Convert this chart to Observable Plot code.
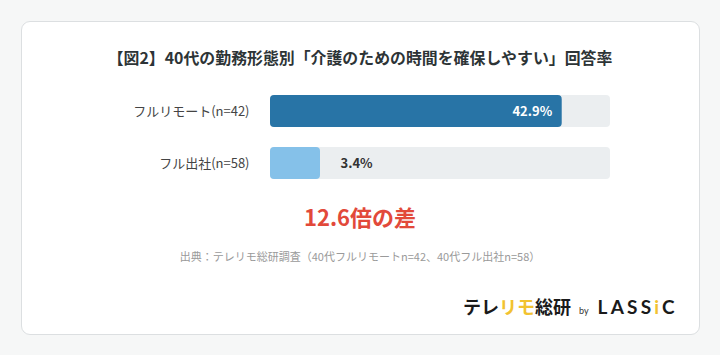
<!DOCTYPE html>
<html>
<head>
<meta charset="utf-8">
<script src="https://cdn.jsdelivr.net/npm/d3@7"></script>
<script src="https://cdn.jsdelivr.net/npm/@observablehq/plot@0.6"></script>
<style>
  html, body { margin: 0; padding: 0; }
  body { width: 720px; height: 355px; background: #f6f7f7; position: relative; overflow: hidden;
         font-family: "Noto Sans CJK JP", "Noto Sans", sans-serif; }
  .card { position: absolute; left: 21px; top: 21px; width: 677px; height: 312px; background: #fff;
          border: 1px solid #dcdfe1; border-radius: 9px; }
  .abs { position: absolute; left: 0; width: 720px; text-align: center; white-space: nowrap; }
  #title { top: 46px; height: 24px; line-height: 24px; font-size: 15.9px; font-weight: 700; color: #2d3436; }
  #chart { position: absolute; left: 0; top: 85px; }
  #ratio { top: 201px; height: 30px; line-height: 30px; font-size: 22px; font-weight: 700; color: #e2493a; }
  #caption { top: 248px; height: 16px; line-height: 16px; font-size: 11px; color: #9a9a9a; }
  #logo { position: absolute; top: 293px; left: 463px; height: 26px; line-height: 26px; white-space: nowrap; }
  #logo .jp { font-size: 18px; font-weight: 700; color: #1a1a1a; }
  #logo .y { color: #f2c230; }
  #logo .by { font-family: "Lato", sans-serif; font-size: 9px; color: #333; margin: 0 9px 0 8px; }
  #logo .en { font-family: "Lato", sans-serif; font-size: 19px; font-weight: 700; color: #1a1a1a; letter-spacing: 3.2px; }
</style>
</head>
<body>
<div class="card"></div>
<div id="title" class="abs"></div>
<div id="chart"></div>
<div id="ratio" class="abs"></div>
<div id="caption" class="abs"></div>
<div id="logo"><span class="jp">テレ<span class="y">リモ</span>総研</span><span class="by">by</span><span class="en">LASS<span class="y">i</span>C</span></div>
<script>
const titleText = "【図2】40代の勤務形態別「介護のための時間を確保しやすい」回答率";
const categories = ["フルリモート(n=42)", "フル出社(n=58)"];
const values = [42.9, 3.4];
const barColors = ["#2874a6", "#85c1e9"];
const xMax = 50;
const ratioSuffix = "倍の差";
const captionText = "出典：テレリモ総研調査（40代フルリモートn=42、40代フル出社n=58）";

document.getElementById("title").textContent = titleText;
document.getElementById("caption").textContent = captionText;
document.getElementById("ratio").textContent = (values[0] / values[1]).toFixed(1) + ratioSuffix;

const width = 720, marginLeft = 270, marginRight = 110;
const minBarPx = 50; // minimum visible bar width (style rule)
const minBarValue = minBarPx / (width - marginLeft - marginRight) * xMax;

const data = categories.map((c, i) => ({
  cat: c, value: values[i], color: barColors[i],
  shown: Math.max(values[i], minBarValue),
  inside: values[i] > 10
}));

const chart = Plot.plot({
  width, height: 104,
  marginLeft, marginRight, marginTop: 0, marginBottom: 0,
  style: { fontFamily: "'Noto Sans CJK JP', sans-serif", background: "transparent", overflow: "visible" },
  x: { domain: [0, xMax], axis: null },
  y: { domain: categories, paddingInner: 0.385, paddingOuter: 0.19, label: null },
  marks: [
    Plot.barX(data, { y: "cat", x: xMax, fill: "#ebeef0", rx: 4 }),
    Plot.barX(data, { y: "cat", x: "shown", fill: "color", rx: 4 }),
    Plot.text(data.filter(d => d.inside), { y: "cat", x: "shown", text: d => d.value.toFixed(1) + "%",
      textAnchor: "end", dx: -10, fill: "#fff", fontWeight: 700, fontSize: 13 }),
    Plot.text(data.filter(d => !d.inside), { y: "cat", x: "shown", text: d => d.value.toFixed(1) + "%",
      textAnchor: "start", dx: 20, fill: "#333", fontWeight: 700, fontSize: 13 }),
    Plot.axisY({ tickSize: 0, tickPadding: 21, fontSize: 13, color: "#444", label: null })
  ]
});
document.getElementById("chart").appendChild(chart);
</script>
</body>
</html>
